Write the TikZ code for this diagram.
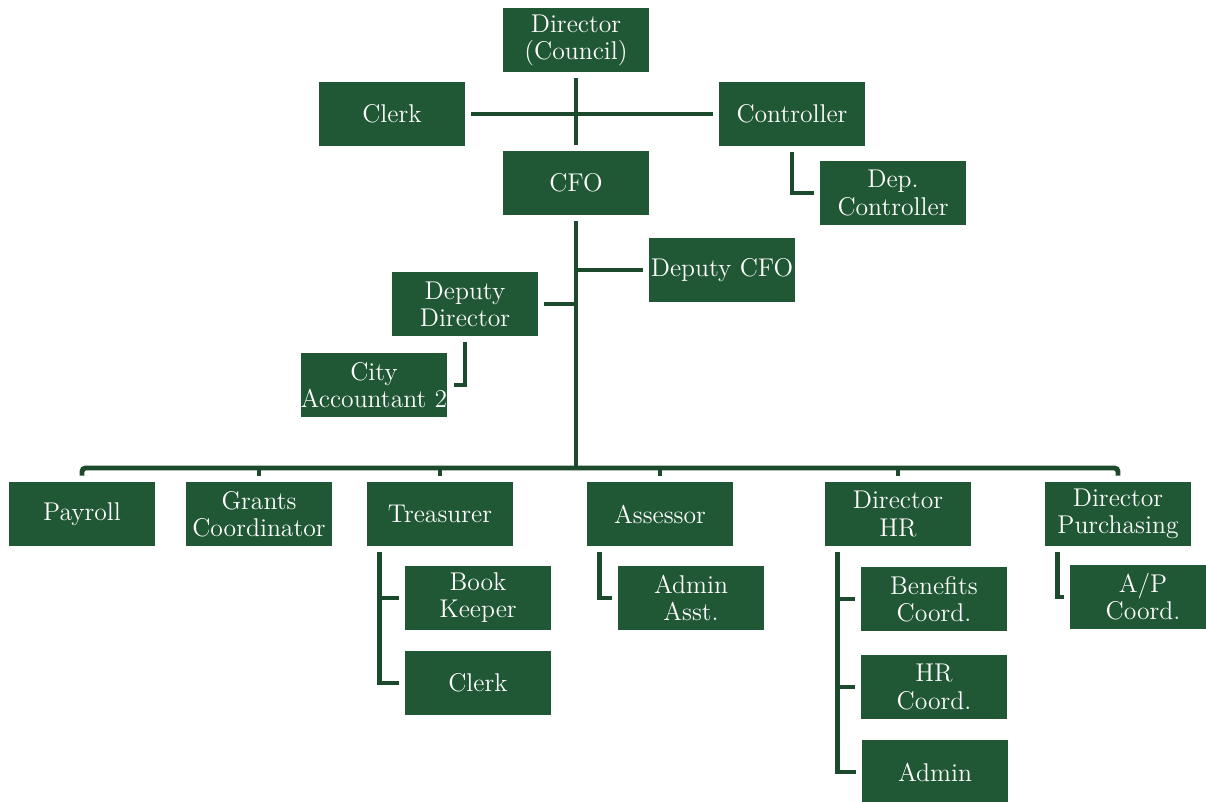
\documentclass[tikz,border=0pt]{standalone}
\usepackage{tikz}
\usetikzlibrary{positioning}

\definecolor{boxgreen}{RGB}{32,87,52}
\definecolor{linegreen}{RGB}{28,74,44}

\tikzset{
	unit/.style={fill=boxgreen, text=white, align=center, inner sep=0pt,
		minimum width=2.92cm, minimum height=1.28cm,
		font=\fontsize{14.6}{15.4}\selectfont},
	link/.style={draw=linegreen, line width=2.8pt},
	gap/.style={shorten <=3.4pt, shorten >=3.4pt},
}

\begin{document}
\begin{tikzpicture}[x=0.02cm, y=-0.02cm]
	\useasboundingbox (0,0) rectangle (1206,801);
	% top of the chart
	\node [unit] (dir) at (576,40) {Director\\(Council)};
	\node [unit] (clerk) at (392,114) {Clerk};
	\node [unit] (ctrl) at (792,114) {Controller};
	\node [unit] (cfo) at (576,183) {CFO};
	\node [unit] (depctrl) at (893,193) {Dep.\\Controller};
	\node [unit] (dcfo) at (722,270) {Deputy CFO};
	\node [unit] (ddir) at (465,304) {Deputy\\Director};
	\node [unit] (cacc) at (374,385) {City\\Accountant\ 2};
	%
	% bottom row
	\node [unit] (pay) at (82,514) {Payroll};
	\node [unit] (grant) at (259,514) {Grants\\Coordinator};
	\node [unit] (treas) at (440,514) {Treasurer};
	\node [unit] (asse) at (660,514) {Assessor};
	\node [unit] (dhr) at (898,514) {Director\\HR};
	\node [unit] (dpur) at (1118,514) {Director\\Purchasing};
	%
	\node [unit] (book) at (478,598) {Book\\Keeper};
	\node [unit] (tclerk) at (478,683) {Clerk};
	\node [unit] (asst) at (691,598) {Admin\\Asst.};
	\node [unit] (benef) at (934,599) {Benefits\\Coord.};
	\node [unit] (hrc) at (934,687) {HR\\Coord.};
	\node [unit] (admin) at (935,772) {Admin};
	\node [unit] (apc) at (1143,597) {A/P\\Coord.};
	%
	\coordinate (hub) at (576,468);
	%
	\draw [link, gap] (dir) -- (cfo);
	\draw [link, gap] (clerk) -- (ctrl);
	\draw [link, gap] (ctrl) |- (depctrl);
	\draw [link, shorten <=3.4pt] (cfo) -- (hub);
	\draw [link, shorten >=3.4pt] (dcfo.west -| cfo) -- (dcfo.west);
	\draw [link, shorten <=3.4pt] (ddir.east) -- (ddir.east -| cfo);
	\draw [link, gap] (ddir) |- (cacc);
	%
	\draw [link, rounded corners=2pt] ([yshift=3.4pt]pay.north) |- (hub)
		-| ([yshift=3.4pt]dpur.north);
	\foreach \n in {grant,treas,asse,dhr}
		\draw [link] ([yshift=3.4pt]\n.north) -- (\n |- hub);
	%
	\draw [link, gap] ([xshift=7.4pt]treas.south west) |- (book.west);
	\draw [link, gap] ([xshift=7.4pt]treas.south west) |- (tclerk.west);
	\draw [link, gap] ([xshift=7.4pt]asse.south west) |- (asst.west);
	\foreach \n in {benef,hrc,admin}
		\draw [link, gap] ([xshift=7.4pt]dhr.south west) |- (\n.west);
	\draw [link, gap] ([xshift=7.4pt]dpur.south west) |- (apc.west);
\end{tikzpicture}
\end{document}
